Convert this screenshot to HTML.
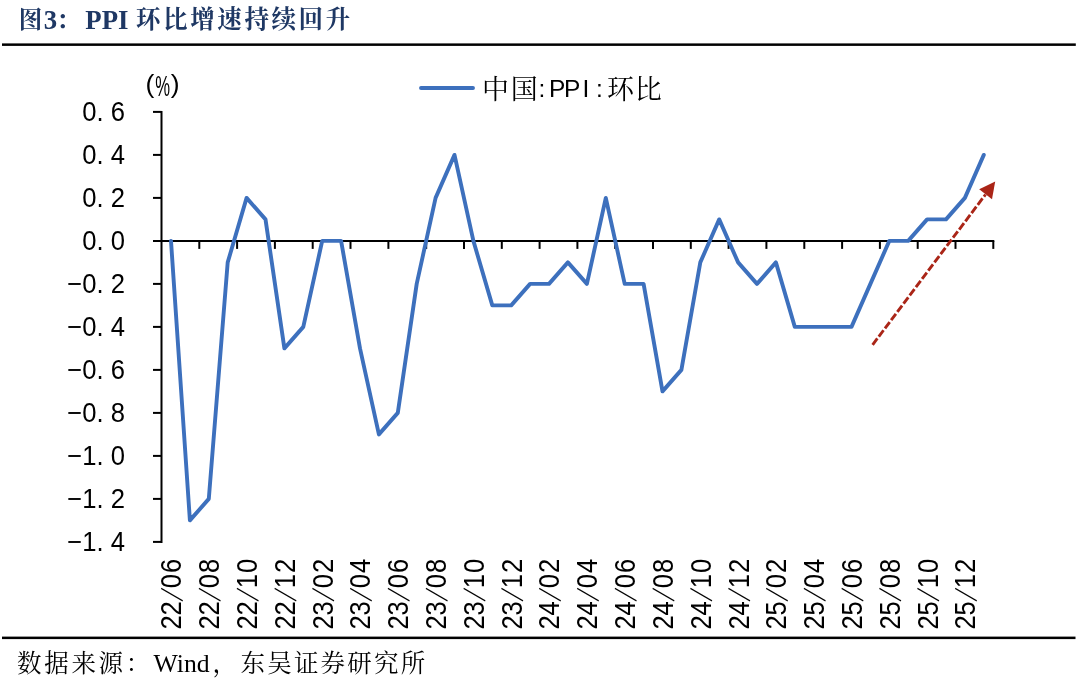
<!DOCTYPE html>
<html lang="zh-CN">
<head>
<meta charset="utf-8">
<title>图3： PPI 环比增速持续回升</title>
<style>
html,body{margin:0;padding:0;background:#fff;}
body{width:1080px;height:687px;overflow:hidden;}
svg{display:block;}
.ax{font-family:"Liberation Sans", sans-serif;font-size:25.5px;fill:#000;}
.t{font-family:"Liberation Serif", "Noto Serif CJK SC", serif;font-weight:bold;fill:#1f3864;}
.s{font-family:"Liberation Serif", "Noto Serif CJK SC", serif;fill:#000;}
.lg{font-family:"Liberation Serif", "Noto Serif CJK SC", serif;fill:#000;}
</style>
</head>
<body>
<svg width="1080" height="687" viewBox="0 0 1080 687">
<rect width="1080" height="687" fill="#fff"/>
<text class="t"><tspan x="18.8" y="28" style="font-size:23.5px">图</tspan><tspan x="43.8" y="28.5" style="font-size:26.8px">3</tspan><tspan x="56.2" y="29" style="font-size:24.5px">：</tspan> <tspan x="85.3" y="28.5" style="font-size:26.8px">PPI</tspan> <tspan x="136" y="27.9" style="font-size:24.5px;letter-spacing:2.6px">环比增速持续回升</tspan></text>
<rect x="2" y="43.4" width="1073.8" height="2.5" fill="#000"/>
<rect x="2" y="636.6" width="1073.5" height="2.5" fill="#000"/>
<g stroke="#000" stroke-width="2" fill="none">
<line x1="161.5" y1="110.9" x2="161.5" y2="542.9"/>
<line x1="153.0" y1="240.9" x2="994.3" y2="240.9"/>
<line x1="153.0" y1="111.9" x2="161.5" y2="111.9"/>
<line x1="153.0" y1="154.9" x2="161.5" y2="154.9"/>
<line x1="153.0" y1="197.9" x2="161.5" y2="197.9"/>
<line x1="153.0" y1="283.9" x2="161.5" y2="283.9"/>
<line x1="153.0" y1="326.9" x2="161.5" y2="326.9"/>
<line x1="153.0" y1="369.9" x2="161.5" y2="369.9"/>
<line x1="153.0" y1="412.9" x2="161.5" y2="412.9"/>
<line x1="153.0" y1="455.9" x2="161.5" y2="455.9"/>
<line x1="153.0" y1="498.9" x2="161.5" y2="498.9"/>
<line x1="153.0" y1="541.9" x2="161.5" y2="541.9"/>
<line x1="199.3" y1="240.9" x2="199.3" y2="248.9"/>
<line x1="237.1" y1="240.9" x2="237.1" y2="248.9"/>
<line x1="274.9" y1="240.9" x2="274.9" y2="248.9"/>
<line x1="312.7" y1="240.9" x2="312.7" y2="248.9"/>
<line x1="350.5" y1="240.9" x2="350.5" y2="248.9"/>
<line x1="388.4" y1="240.9" x2="388.4" y2="248.9"/>
<line x1="426.2" y1="240.9" x2="426.2" y2="248.9"/>
<line x1="464.0" y1="240.9" x2="464.0" y2="248.9"/>
<line x1="501.8" y1="240.9" x2="501.8" y2="248.9"/>
<line x1="539.6" y1="240.9" x2="539.6" y2="248.9"/>
<line x1="577.4" y1="240.9" x2="577.4" y2="248.9"/>
<line x1="615.2" y1="240.9" x2="615.2" y2="248.9"/>
<line x1="653.0" y1="240.9" x2="653.0" y2="248.9"/>
<line x1="690.8" y1="240.9" x2="690.8" y2="248.9"/>
<line x1="728.6" y1="240.9" x2="728.6" y2="248.9"/>
<line x1="766.4" y1="240.9" x2="766.4" y2="248.9"/>
<line x1="804.3" y1="240.9" x2="804.3" y2="248.9"/>
<line x1="842.1" y1="240.9" x2="842.1" y2="248.9"/>
<line x1="879.9" y1="240.9" x2="879.9" y2="248.9"/>
<line x1="917.7" y1="240.9" x2="917.7" y2="248.9"/>
<line x1="955.5" y1="240.9" x2="955.5" y2="248.9"/>
<line x1="993.3" y1="240.9" x2="993.3" y2="248.9"/>
</g>
<text class="ax" transform="translate(124.9,121.2) scale(0.945,1)" style="font-size:27.1px" text-anchor="end" xml:space="preserve">0. 6</text>
<text class="ax" transform="translate(124.9,164.2) scale(0.945,1)" style="font-size:27.1px" text-anchor="end" xml:space="preserve">0. 4</text>
<text class="ax" transform="translate(124.9,207.2) scale(0.945,1)" style="font-size:27.1px" text-anchor="end" xml:space="preserve">0. 2</text>
<text class="ax" transform="translate(124.9,250.2) scale(0.945,1)" style="font-size:27.1px" text-anchor="end" xml:space="preserve">0. 0</text>
<text class="ax" transform="translate(124.9,293.2) scale(0.945,1)" style="font-size:27.1px" text-anchor="end" xml:space="preserve">−0. 2</text>
<text class="ax" transform="translate(124.9,336.2) scale(0.945,1)" style="font-size:27.1px" text-anchor="end" xml:space="preserve">−0. 4</text>
<text class="ax" transform="translate(124.9,379.2) scale(0.945,1)" style="font-size:27.1px" text-anchor="end" xml:space="preserve">−0. 6</text>
<text class="ax" transform="translate(124.9,422.2) scale(0.945,1)" style="font-size:27.1px" text-anchor="end" xml:space="preserve">−0. 8</text>
<text class="ax" transform="translate(124.9,465.2) scale(0.945,1)" style="font-size:27.1px" text-anchor="end" xml:space="preserve">−1. 0</text>
<text class="ax" transform="translate(124.9,508.2) scale(0.945,1)" style="font-size:27.1px" text-anchor="end" xml:space="preserve">−1. 2</text>
<text class="ax" transform="translate(124.9,551.2) scale(0.945,1)" style="font-size:27.1px" text-anchor="end" xml:space="preserve">−1. 4</text>
<text class="ax" style="font-size:26.5px"><tspan x="145.4" y="92.8">(</tspan><tspan x="155.2" y="96" style="font-size:29px" textLength="14.8" lengthAdjust="spacingAndGlyphs">%</tspan><tspan x="170.7" y="92.8">)</tspan></text>
<text class="ax" transform="translate(181.4,629.6) rotate(-90) scale(0.88,1)" style="font-size:29px">22<tspan dx="0" dy="-1.6" rotate="16" style="font-size:30px;font-family:&quot;DejaVu Sans&quot;,sans-serif;font-weight:200">/</tspan><tspan dx="4.5 1.2" dy="1.6">06</tspan></text>
<text class="ax" transform="translate(219.2,629.6) rotate(-90) scale(0.88,1)" style="font-size:29px">22<tspan dx="0" dy="-1.6" rotate="16" style="font-size:30px;font-family:&quot;DejaVu Sans&quot;,sans-serif;font-weight:200">/</tspan><tspan dx="4.5 1.2" dy="1.6">08</tspan></text>
<text class="ax" transform="translate(257.0,629.6) rotate(-90) scale(0.88,1)" style="font-size:29px">22<tspan dx="0" dy="-1.6" rotate="16" style="font-size:30px;font-family:&quot;DejaVu Sans&quot;,sans-serif;font-weight:200">/</tspan><tspan dx="4.5 1.2" dy="1.6">10</tspan></text>
<text class="ax" transform="translate(294.8,629.6) rotate(-90) scale(0.88,1)" style="font-size:29px">22<tspan dx="0" dy="-1.6" rotate="16" style="font-size:30px;font-family:&quot;DejaVu Sans&quot;,sans-serif;font-weight:200">/</tspan><tspan dx="4.5 1.2" dy="1.6">12</tspan></text>
<text class="ax" transform="translate(332.6,629.6) rotate(-90) scale(0.88,1)" style="font-size:29px">23<tspan dx="0" dy="-1.6" rotate="16" style="font-size:30px;font-family:&quot;DejaVu Sans&quot;,sans-serif;font-weight:200">/</tspan><tspan dx="4.5 1.2" dy="1.6">02</tspan></text>
<text class="ax" transform="translate(370.4,629.6) rotate(-90) scale(0.88,1)" style="font-size:29px">23<tspan dx="0" dy="-1.6" rotate="16" style="font-size:30px;font-family:&quot;DejaVu Sans&quot;,sans-serif;font-weight:200">/</tspan><tspan dx="4.5 1.2" dy="1.6">04</tspan></text>
<text class="ax" transform="translate(408.2,629.6) rotate(-90) scale(0.88,1)" style="font-size:29px">23<tspan dx="0" dy="-1.6" rotate="16" style="font-size:30px;font-family:&quot;DejaVu Sans&quot;,sans-serif;font-weight:200">/</tspan><tspan dx="4.5 1.2" dy="1.6">06</tspan></text>
<text class="ax" transform="translate(446.0,629.6) rotate(-90) scale(0.88,1)" style="font-size:29px">23<tspan dx="0" dy="-1.6" rotate="16" style="font-size:30px;font-family:&quot;DejaVu Sans&quot;,sans-serif;font-weight:200">/</tspan><tspan dx="4.5 1.2" dy="1.6">08</tspan></text>
<text class="ax" transform="translate(483.8,629.6) rotate(-90) scale(0.88,1)" style="font-size:29px">23<tspan dx="0" dy="-1.6" rotate="16" style="font-size:30px;font-family:&quot;DejaVu Sans&quot;,sans-serif;font-weight:200">/</tspan><tspan dx="4.5 1.2" dy="1.6">10</tspan></text>
<text class="ax" transform="translate(521.6,629.6) rotate(-90) scale(0.88,1)" style="font-size:29px">23<tspan dx="0" dy="-1.6" rotate="16" style="font-size:30px;font-family:&quot;DejaVu Sans&quot;,sans-serif;font-weight:200">/</tspan><tspan dx="4.5 1.2" dy="1.6">12</tspan></text>
<text class="ax" transform="translate(559.4,629.6) rotate(-90) scale(0.88,1)" style="font-size:29px">24<tspan dx="0" dy="-1.6" rotate="16" style="font-size:30px;font-family:&quot;DejaVu Sans&quot;,sans-serif;font-weight:200">/</tspan><tspan dx="4.5 1.2" dy="1.6">02</tspan></text>
<text class="ax" transform="translate(597.3,629.6) rotate(-90) scale(0.88,1)" style="font-size:29px">24<tspan dx="0" dy="-1.6" rotate="16" style="font-size:30px;font-family:&quot;DejaVu Sans&quot;,sans-serif;font-weight:200">/</tspan><tspan dx="4.5 1.2" dy="1.6">04</tspan></text>
<text class="ax" transform="translate(635.1,629.6) rotate(-90) scale(0.88,1)" style="font-size:29px">24<tspan dx="0" dy="-1.6" rotate="16" style="font-size:30px;font-family:&quot;DejaVu Sans&quot;,sans-serif;font-weight:200">/</tspan><tspan dx="4.5 1.2" dy="1.6">06</tspan></text>
<text class="ax" transform="translate(672.9,629.6) rotate(-90) scale(0.88,1)" style="font-size:29px">24<tspan dx="0" dy="-1.6" rotate="16" style="font-size:30px;font-family:&quot;DejaVu Sans&quot;,sans-serif;font-weight:200">/</tspan><tspan dx="4.5 1.2" dy="1.6">08</tspan></text>
<text class="ax" transform="translate(710.7,629.6) rotate(-90) scale(0.88,1)" style="font-size:29px">24<tspan dx="0" dy="-1.6" rotate="16" style="font-size:30px;font-family:&quot;DejaVu Sans&quot;,sans-serif;font-weight:200">/</tspan><tspan dx="4.5 1.2" dy="1.6">10</tspan></text>
<text class="ax" transform="translate(748.5,629.6) rotate(-90) scale(0.88,1)" style="font-size:29px">24<tspan dx="0" dy="-1.6" rotate="16" style="font-size:30px;font-family:&quot;DejaVu Sans&quot;,sans-serif;font-weight:200">/</tspan><tspan dx="4.5 1.2" dy="1.6">12</tspan></text>
<text class="ax" transform="translate(786.3,629.6) rotate(-90) scale(0.88,1)" style="font-size:29px">25<tspan dx="0" dy="-1.6" rotate="16" style="font-size:30px;font-family:&quot;DejaVu Sans&quot;,sans-serif;font-weight:200">/</tspan><tspan dx="4.5 1.2" dy="1.6">02</tspan></text>
<text class="ax" transform="translate(824.1,629.6) rotate(-90) scale(0.88,1)" style="font-size:29px">25<tspan dx="0" dy="-1.6" rotate="16" style="font-size:30px;font-family:&quot;DejaVu Sans&quot;,sans-serif;font-weight:200">/</tspan><tspan dx="4.5 1.2" dy="1.6">04</tspan></text>
<text class="ax" transform="translate(861.9,629.6) rotate(-90) scale(0.88,1)" style="font-size:29px">25<tspan dx="0" dy="-1.6" rotate="16" style="font-size:30px;font-family:&quot;DejaVu Sans&quot;,sans-serif;font-weight:200">/</tspan><tspan dx="4.5 1.2" dy="1.6">06</tspan></text>
<text class="ax" transform="translate(899.7,629.6) rotate(-90) scale(0.88,1)" style="font-size:29px">25<tspan dx="0" dy="-1.6" rotate="16" style="font-size:30px;font-family:&quot;DejaVu Sans&quot;,sans-serif;font-weight:200">/</tspan><tspan dx="4.5 1.2" dy="1.6">08</tspan></text>
<text class="ax" transform="translate(937.5,629.6) rotate(-90) scale(0.88,1)" style="font-size:29px">25<tspan dx="0" dy="-1.6" rotate="16" style="font-size:30px;font-family:&quot;DejaVu Sans&quot;,sans-serif;font-weight:200">/</tspan><tspan dx="4.5 1.2" dy="1.6">10</tspan></text>
<text class="ax" transform="translate(975.3,629.6) rotate(-90) scale(0.88,1)" style="font-size:29px">25<tspan dx="0" dy="-1.6" rotate="16" style="font-size:30px;font-family:&quot;DejaVu Sans&quot;,sans-serif;font-weight:200">/</tspan><tspan dx="4.5 1.2" dy="1.6">12</tspan></text>
<polyline points="171.0,240.9 189.9,520.4 208.8,498.9 227.7,262.4 246.6,197.9 265.5,219.4 284.4,348.4 303.3,326.9 322.2,240.9 341.1,240.9 360.0,348.4 378.9,434.4 397.8,412.9 416.7,283.9 435.6,197.9 454.5,154.9 473.4,240.9 492.3,305.4 511.2,305.4 530.1,283.9 549.0,283.9 567.9,262.4 586.9,283.9 605.8,197.9 624.7,283.9 643.6,283.9 662.5,391.4 681.4,369.9 700.3,262.4 719.2,219.4 738.1,262.4 757.0,283.9 775.9,262.4 794.8,326.9 813.7,326.9 832.6,326.9 851.5,326.9 870.4,283.9 889.3,240.9 908.2,240.9 927.1,219.4 946.0,219.4 964.9,197.9 983.8,154.9" fill="none" stroke="#3d70bd" stroke-width="3.9" stroke-linejoin="round" stroke-linecap="round"/>
<line x1="421" y1="88" x2="473" y2="88" stroke="#3d70bd" stroke-width="3.9" stroke-linecap="round"/>
<text><tspan class="lg" x="482" y="98.5" style="font-size:27px;letter-spacing:1.8px">中国</tspan><tspan class="ax" x="538.5" y="97" style="font-size:24.5px">:</tspan><tspan class="ax" x="549 564 582.4" y="97" style="font-size:24.5px">PPI</tspan><tspan class="ax" x="596" y="97" style="font-size:24.5px">:</tspan><tspan class="lg" x="607 634.7" y="98.5" style="font-size:27px">环比</tspan></text>
<line x1="872.6" y1="344.8" x2="985.5" y2="194.5" stroke="#aa2517" stroke-width="2.9" stroke-dasharray="7.9 2.4"/>
<polygon points="995.2,181.6 979.2,189.2 992,199.2" fill="#aa2517"/>
<text class="s"><tspan x="17" y="672" style="font-size:24.5px;letter-spacing:2.7px">数据来源：</tspan><tspan x="153.6" y="671.6" style="font-size:25.7px">Wind</tspan><tspan x="212.5" y="672" style="font-size:24.5px">，</tspan><tspan x="240.5" y="672" style="font-size:24.5px;letter-spacing:2.2px">东吴证券研究所</tspan></text>
</svg>
</body>
</html>
